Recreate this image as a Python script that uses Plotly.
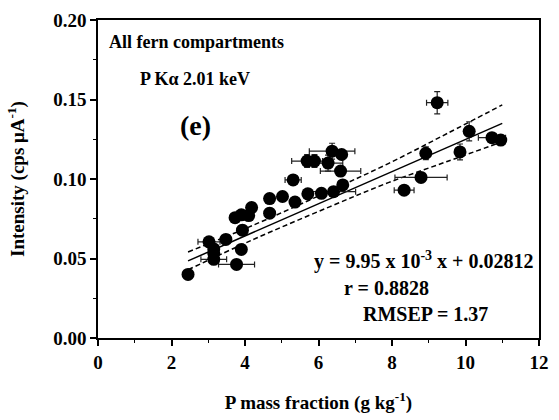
import plotly.graph_objects as go

# Data
p_mass = [2.45, 3.02, 3.15, 3.15, 3.15, 3.48, 3.77, 3.90, 3.93, 3.73, 3.90, 4.10, 4.18,
          4.67, 4.67, 5.02, 5.31, 5.36, 5.71, 6.08, 6.41, 6.66, 6.60, 6.26, 5.69, 5.89,
          6.37, 6.63, 8.33, 8.79, 8.92, 9.23, 9.85, 10.10, 10.72, 10.96]
intensity = [0.040, 0.0605, 0.056, 0.0535, 0.0495, 0.062, 0.0463, 0.0557, 0.0678, 0.0757,
             0.0775, 0.077, 0.082, 0.0877, 0.0785, 0.089, 0.0994, 0.0855, 0.0907, 0.091,
             0.092, 0.0963, 0.105, 0.110, 0.1113, 0.1113, 0.1175, 0.1154, 0.093, 0.101,
             0.1162, 0.148, 0.117, 0.130, 0.126, 0.1245]
x_err = [0, 0.30, 0, 0, 0.35, 0, 0.49, 0, 0, 0, 0, 0, 0,
         0, 0, 0, 0.22, 0, 0, 0, 0.60, 0, 0.55, 0.40, 0.42, 0,
         0.62, 0, 0.27, 0.71, 0, 0.29, 0, 0, 0.37, 0]
y_err = [0, 0, 0.002, 0, 0, 0, 0, 0, 0.003, 0, 0.003, 0, 0.003,
         0.003, 0.003, 0.003, 0, 0, 0, 0, 0, 0, 0, 0.005, 0.004, 0.004,
         0.005, 0, 0, 0.003, 0.004, 0.007, 0.005, 0.006, 0, 0]

fit_x = [2.45, 11.0]
fit_y = [0.0485, 0.135]

band_x = [2.45, 4.2, 6.3, 7.9, 9.5, 11.0]
band_upper = [0.0541, 0.0707, 0.0925, 0.1097, 0.1286, 0.1466]
band_lower = [0.0429, 0.0617, 0.0825, 0.0977, 0.1110, 0.1234]

x_ticks = [0, 2, 4, 6, 8, 10, 12]
y_ticks = [0.00, 0.05, 0.10, 0.15, 0.20]

FONT = "Liberation Serif"

fig = go.Figure()

fig.add_trace(go.Scatter(x=band_x, y=band_upper, mode="lines", line_shape="spline",
                         line=dict(color="black", width=1.5, dash="5px,3px"), hoverinfo="skip"))
fig.add_trace(go.Scatter(x=band_x, y=band_lower, mode="lines", line_shape="spline",
                         line=dict(color="black", width=1.5, dash="5px,3px"), hoverinfo="skip"))
fig.add_trace(go.Scatter(x=fit_x, y=fit_y, mode="lines",
                         line=dict(color="black", width=1.5)))
fig.add_trace(go.Scatter(
    x=p_mass, y=intensity, mode="markers",
    marker=dict(color="black", size=13, symbol="circle"),
    error_x=dict(type="data", array=x_err, color="#222222", thickness=1.2, width=3),
    error_y=dict(type="data", array=y_err, color="#222222", thickness=1.2, width=3),
))

tick_font = dict(family=FONT, size=19, color="black")
title_font = dict(family=FONT, size=19, color="black")

fig.update_xaxes(
    range=[0, 12], tickvals=x_ticks, ticktext=["<b>%d</b>" % v for v in x_ticks],
    showgrid=False, zeroline=False, showline=True, linecolor="black", linewidth=1.5,
    mirror=True, ticks="outside", ticklen=6, tickwidth=1.5, tickcolor="black",
    tickfont=tick_font,
    minor=dict(dtick=1, ticks="outside", ticklen=3, tickwidth=1.2, tickcolor="black"),
    title=dict(text="<b>P mass fraction (g kg<sup>-1</sup>)</b>", font=title_font, standoff=24),
)
fig.update_yaxes(
    range=[0, 0.2], tickvals=y_ticks, ticktext=["<b>%.2f</b>" % v for v in y_ticks],
    showgrid=False, zeroline=False, showline=True, linecolor="black", linewidth=1.5,
    mirror=True, ticks="outside", ticklen=6, tickwidth=1.5, tickcolor="black",
    tickfont=tick_font,
    minor=dict(dtick=0.025, ticks="outside", ticklen=3, tickwidth=1.2, tickcolor="black"),
    title=dict(text="<b>Intensity (cps \u03bcA<sup>-1</sup>)</b>", font=title_font, standoff=24),
)

ann_font = dict(family=FONT, size=18, color="black")
eq_font = dict(family=FONT, size=20, color="black")
annotations = [
    dict(text="<b>All fern compartments</b>", x=(107 - 98) / 451, y=0.932, xanchor="left", yanchor="middle", font=ann_font),
    dict(text="<b>P K\u03b1 2.01 keV</b>", x=(139 - 98) / 451, y=0.815, xanchor="left", yanchor="middle", font=ann_font),
    dict(text="<b>(e)</b>", x=(198 - 98) / 451, y=0.668, xanchor="center", yanchor="middle",
         font=dict(family=FONT, size=28, color="black")),
    dict(text="<b>y = 9.95 x 10<sup>-3</sup> x + 0.02812</b>", x=(317 - 98) / 451, y=0.243,
         xanchor="left", yanchor="middle", font=eq_font),
    dict(text="<b>r = 0.8828</b>", x=(393 - 98) / 451, y=0.158, xanchor="center", yanchor="middle", font=eq_font),
    dict(text="<b>RMSEP = 1.37</b>", x=(367 - 98) / 451, y=0.077, xanchor="left", yanchor="middle", font=eq_font),
]
for a in annotations:
    a.update(xref="paper", yref="paper", showarrow=False)

fig.update_layout(
    width=559, height=420,
    margin=dict(l=98, r=10, t=17, b=79),
    paper_bgcolor="white", plot_bgcolor="white",
    showlegend=False,
    annotations=annotations,
    font=dict(family=FONT, color="black"),
)

fig.write_html("out.html")
